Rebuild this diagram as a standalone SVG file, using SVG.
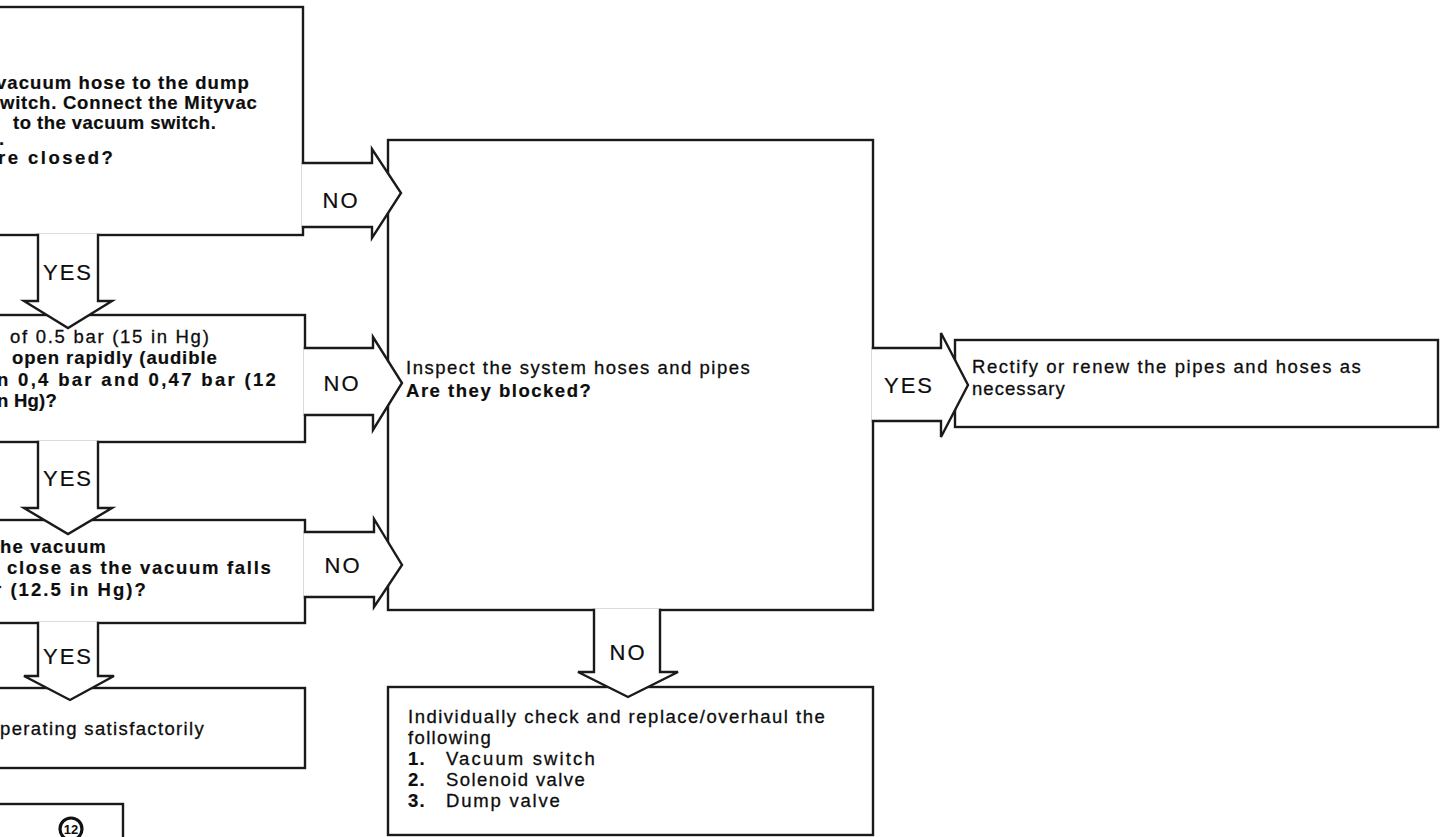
<svg xmlns="http://www.w3.org/2000/svg" width="1444" height="837" viewBox="0 0 1444 837">
  <style>
    .box { fill: #ffffff; stroke: #1a1a1a; stroke-width: 2.4; }
    .arrow { fill: #ffffff; stroke: #1a1a1a; stroke-width: 2.4; stroke-linejoin: miter; }
    text { font-family: "Liberation Sans", Arial, Helvetica, sans-serif; fill: #0d0d0d; }
    .t { font-size: 18.5px; letter-spacing: 1.2px; stroke: #0d0d0d; stroke-width: 0.3px; }
    .b { font-weight: bold; stroke-width: 0.2px; }
    .lbl { font-size: 22px; letter-spacing: 2px; text-anchor: middle; stroke: #0d0d0d; stroke-width: 0.2px; }
    .fig { font-size: 13px; font-weight: bold; text-anchor: middle; }
  </style>
  <rect width="1444" height="837" fill="#ffffff"/>

  <!-- boxes -->
  <g id="step-vacuum-switch-closed">
    <rect class="box" x="-20" y="7" width="323" height="228"/>
    <text class="t b" x="-4" y="89" textLength="254" lengthAdjust="spacing">vacuum hose to the dump</text>
    <text class="t b" x="0" y="109" textLength="258" lengthAdjust="spacing">witch. Connect the Mityvac</text>
    <text class="t b" x="13" y="129" textLength="204" lengthAdjust="spacing">to the vacuum switch.</text>
    <text class="t b" x="-1" y="145">.</text>
    <text class="t b" x="-2" y="164" textLength="116" lengthAdjust="spacing">re closed?</text>
  </g>

  <g id="step-open-rapidly">
    <rect class="box" x="-20" y="315" width="325" height="127"/>
    <text class="t" x="10" y="343" textLength="200" lengthAdjust="spacing">of 0.5 bar (15 in Hg)</text>
    <text class="t b" x="12" y="364" textLength="206" lengthAdjust="spacing">open rapidly (audible</text>
    <text class="t b" x="-3" y="386" textLength="280" lengthAdjust="spacing">n 0,4 bar and 0,47 bar (12</text>
    <text class="t b" x="-3" y="407" textLength="61" lengthAdjust="spacing">n Hg)?</text>
  </g>

  <g id="step-close-as-vacuum-falls">
    <rect class="box" x="-20" y="520" width="325" height="103"/>
    <text class="t b" x="0" y="553" textLength="107" lengthAdjust="spacing">he vacuum</text>
    <text class="t b" x="7" y="574" textLength="265" lengthAdjust="spacing">close as the vacuum falls</text>
    <text class="t b" x="-6" y="596" textLength="153" lengthAdjust="spacing">r (12.5 in Hg)?</text>
  </g>

  <g id="result-operating">
    <rect class="box" x="-20" y="688" width="325" height="80"/>
    <text class="t" x="0" y="735" textLength="205" lengthAdjust="spacing">perating satisfactorily</text>
  </g>

  <g id="figure-ref">
    <rect class="box" x="-20" y="804" width="143" height="60"/>
    <circle cx="71" cy="829" r="11" fill="#ffffff" stroke="#111111" stroke-width="3.2"/>
    <text class="fig" x="71" y="834">12</text>
  </g>

  <g id="step-inspect-hoses">
    <rect class="box" x="388" y="140" width="485" height="470"/>
    <text class="t" x="406" y="374" textLength="345" lengthAdjust="spacing">Inspect the system hoses and pipes</text>
    <text class="t b" x="406" y="397" textLength="186" lengthAdjust="spacing">Are they blocked?</text>
  </g>

  <g id="result-rectify">
    <rect class="box" x="955" y="340" width="483" height="87"/>
    <text class="t" x="972" y="373" textLength="390" lengthAdjust="spacing">Rectify or renew the pipes and hoses as</text>
    <text class="t" x="972" y="395" textLength="94" lengthAdjust="spacing">necessary</text>
  </g>

  <g id="result-check-components">
    <rect class="box" x="388" y="687" width="485" height="148"/>
    <text class="t" x="408" y="723" textLength="418" lengthAdjust="spacing">Individually check and replace/overhaul the</text>
    <text class="t" x="408" y="744" textLength="84" lengthAdjust="spacing">following</text>
    <text class="t b" x="408" y="765">1.</text>
    <text class="t" x="446" y="765" textLength="150" lengthAdjust="spacing">Vacuum switch</text>
    <text class="t b" x="408" y="786">2.</text>
    <text class="t" x="446" y="786" textLength="140" lengthAdjust="spacing">Solenoid valve</text>
    <text class="t b" x="408" y="807">3.</text>
    <text class="t" x="446" y="807" textLength="115" lengthAdjust="spacing">Dump valve</text>
  </g>

  <!-- block arrows joining the boxes -->
  <g id="connectors">
    <path class="arrow" d="M301.8,163 H372 V149 L401,193 L372,238 V227 H301.8"/>
    <text class="lbl" x="341" y="208">NO</text>

    <path class="arrow" d="M303.8,348 H373 V337 L402,383 L373,430 V415 H303.8"/>
    <text class="lbl" x="342" y="391">NO</text>

    <path class="arrow" d="M303.8,532 H374 V519 L402,565 L374,607 V597 H303.8"/>
    <text class="lbl" x="343" y="573">NO</text>

    <path class="arrow" d="M38,233.8 V301 H24 L68,328 L112,301 H98 V233.8"/>
    <text class="lbl" x="68" y="280">YES</text>

    <path class="arrow" d="M38,440.8 V508 H24 L68,534 L112,508 H98 V440.8"/>
    <text class="lbl" x="68" y="486">YES</text>

    <path class="arrow" d="M38,621.8 V676 H24 L70,700 L114,676 H98 V621.8"/>
    <text class="lbl" x="68" y="664">YES</text>

    <path class="arrow" d="M871.8,348 H941 V333 L968,385 L941,437 V421 H871.8"/>
    <text class="lbl" x="909" y="393">YES</text>

    <path class="arrow" d="M594,608.8 V672 H578 L628,697 L678,672 H660 V608.8"/>
    <text class="lbl" x="628" y="660">NO</text>
  </g>
</svg>
